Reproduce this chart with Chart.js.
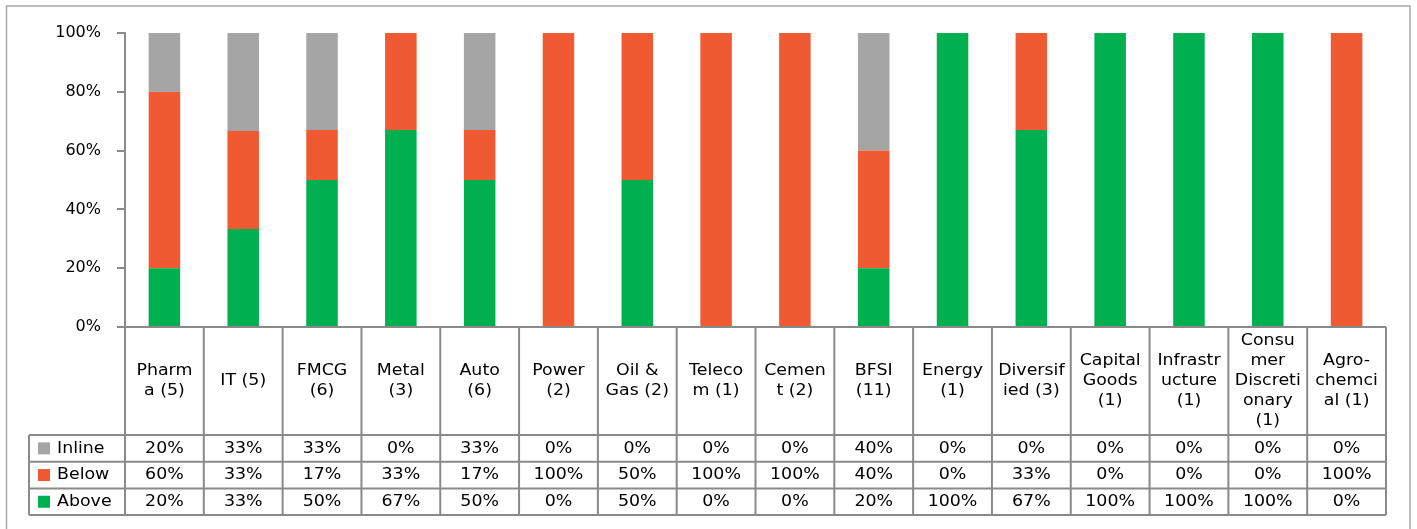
<!DOCTYPE html>
<html>
<head>
<meta charset="utf-8">
<script src="https://cdn.jsdelivr.net/npm/chart.js@4.4.1/dist/chart.umd.min.js"></script>
<style>
html,body{margin:0;padding:0;background:#fff;}
#wrap{width:1417px;height:529px;position:relative;}
</style>
</head>
<body>
<div id="wrap"><canvas id="c" width="1417" height="529"></canvas></div>
<script>
const categories = [
  ["Pharm","a (5)"], ["IT (5)"], ["FMCG","(6)"], ["Metal","(3)"], ["Auto","(6)"],
  ["Power","(2)"], ["Oil &","Gas (2)"], ["Teleco","m (1)"], ["Cemen","t (2)"], ["BFSI","(11)"],
  ["Energy","(1)"], ["Diversif","ied (3)"], ["Capital","Goods","(1)"], ["Infrastr","ucture","(1)"],
  ["Consu","mer","Discreti","onary","(1)"], ["Agro-","chemci","al (1)"]
];
const inline = [20,33,33,0,33,0,0,0,0,40,0,0,0,0,0,0];
const below  = [60,33,17,33,17,100,50,100,100,40,0,33,0,0,0,100];
const above  = [20,33,50,67,50,0,50,0,0,20,100,67,100,100,100,0];
const yTicks = [0,20,40,60,80,100];

const seriesNames = ["Inline","Below","Above"];
const colors = {Inline:"#A5A5A5", Below:"#F05A32", Above:"#00B050"};

// 100% stacked: share of each category total
const totals = categories.map((_,i)=> inline[i]+below[i]+above[i]);
const share = arr => arr.map((v,i)=> totals[i] ? v/totals[i]*100 : 0);

const LINE = "#8A8A8A";
const FONT = "15px 'DejaVu Sans'";
const SX = 1.16;

function stretchText(ctx, txt, x, y, align){
  ctx.save();
  ctx.translate(x, y);
  ctx.scale(SX, 1);
  ctx.textAlign = align || 'center';
  ctx.textBaseline = 'middle';
  ctx.fillText(txt, 0, 0);
  ctx.restore();
}

const tablePlugin = {
  id: 'tablePlugin',
  beforeDraw(chart){
    const ctx = chart.ctx;
    ctx.save();
    ctx.strokeStyle = "#A6A6A6";
    ctx.lineWidth = 1.5;
    ctx.strokeRect(6.5, 6, 1403.5, 540);
    ctx.restore();
  },
  afterDraw(chart){
    const {ctx, chartArea} = chart;
    const x = chart.scales.x;
    const n = categories.length;
    const step = x.getPixelForValue(1) - x.getPixelForValue(0);
    const left = x.getPixelForValue(0) - step/2;
    const right = x.getPixelForValue(n-1) + step/2;
    const top = chartArea.bottom;
    const headH = 108;
    const rowH = 26.7;
    const headBottom = top + headH;
    const tableBottom = headBottom + rowH*3;
    const legLeft = 29;

    ctx.save();
    ctx.strokeStyle = LINE;
    ctx.lineWidth = 2;
    ctx.beginPath();
    ctx.moveTo(left, top); ctx.lineTo(right, top);
    for (let r=0;r<=3;r++){
      const yy = headBottom + r*rowH;
      ctx.moveTo(legLeft, yy); ctx.lineTo(right, yy);
    }
    for (let i=0;i<=n;i++){
      const xx = left + i*step;
      ctx.moveTo(xx, top); ctx.lineTo(xx, tableBottom);
    }
    ctx.moveTo(legLeft, headBottom); ctx.lineTo(legLeft, tableBottom);
    ctx.stroke();

    ctx.fillStyle = "#000";
    ctx.font = FONT;
    const lh = 20;
    categories.forEach((lines,i)=>{
      const cx = x.getPixelForValue(i);
      const cy = top + headH/2;
      const start = cy - (lines.length-1)*lh/2;
      lines.forEach((t,k)=> stretchText(ctx, t, cx, start + k*lh, 'center'));
    });
    const rows = [inline, below, above];
    rows.forEach((arr,r)=>{
      const cy = headBottom + r*rowH + rowH/2;
      ctx.fillStyle = colors[seriesNames[r]];
      ctx.fillRect(38, cy-6, 12, 12);
      ctx.fillStyle = "#000";
      stretchText(ctx, seriesNames[r], 57, cy+0.5, 'left');
      arr.forEach((v,i)=>{
        stretchText(ctx, v + "%", x.getPixelForValue(i), cy+0.5, 'center');
      });
    });
    ctx.restore();
  }
};

new Chart(document.getElementById('c'), {
  type: 'bar',
  data: {
    labels: categories,
    datasets: [
      {label:"Above", data: share(above), backgroundColor: colors.Above, barPercentage:0.4, categoryPercentage:1},
      {label:"Below", data: share(below), backgroundColor: colors.Below, barPercentage:0.4, categoryPercentage:1},
      {label:"Inline", data: share(inline), backgroundColor: colors.Inline, barPercentage:0.4, categoryPercentage:1}
    ]
  },
  options: {
    responsive: false,
    animation: false,
    devicePixelRatio: 1,
    layout: { padding: {left: 6, right: 31, top: 33, bottom: 202} },
    plugins: { legend: {display:false}, tooltip: {enabled:false} },
    scales: {
      x: { stacked: true, display: false },
      y: {
        stacked: true, min: 0, max: 100,
        afterBuildTicks(scale){ scale.ticks = yTicks.map(v=>({value:v})); },
        afterFit(scale){ scale.width = 119; },
        ticks: { callback: v => v + "%", color: "#000", font: {family: "DejaVu Sans", size: 16}, padding: 16 },
        grid: { drawOnChartArea: false, drawTicks: true, tickLength: 8, color: LINE, lineWidth: 2 },
        border: { display: true, color: LINE, width: 2 }
      }
    }
  },
  plugins: [tablePlugin]
});
</script>
</body>
</html>
